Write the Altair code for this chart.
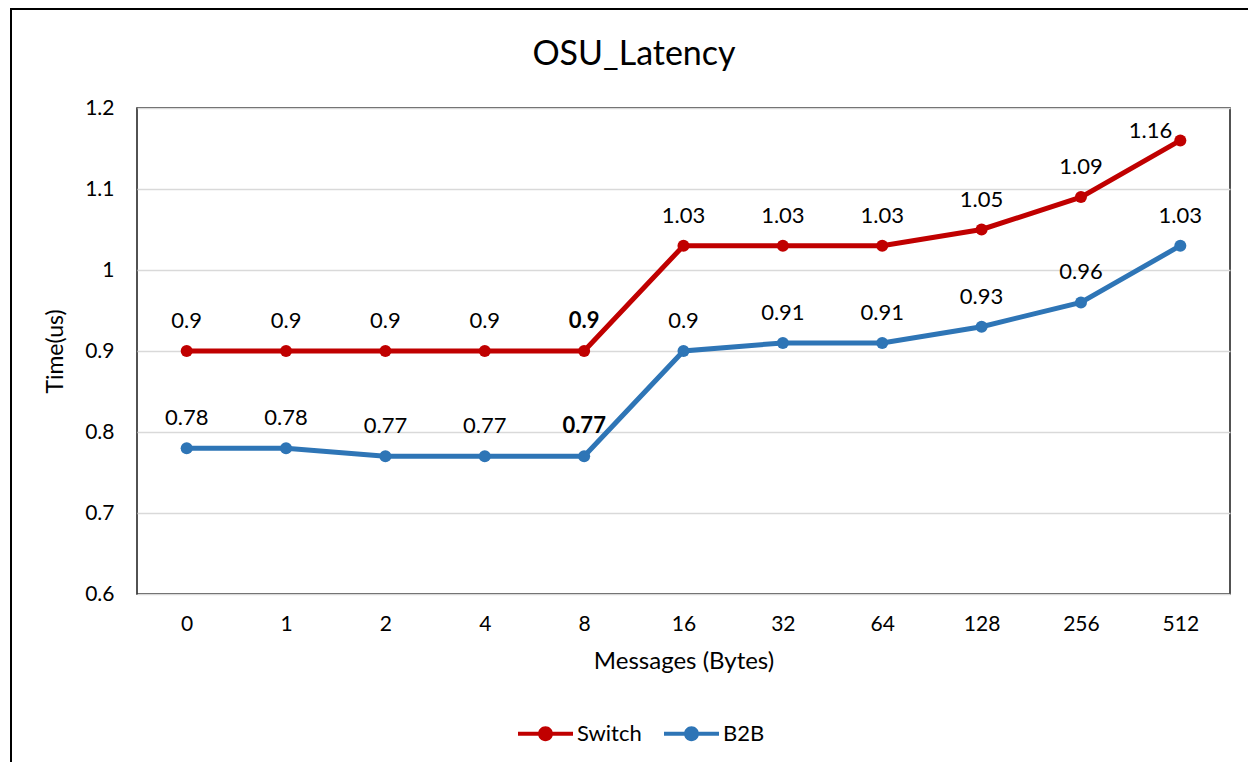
import altair as alt
import pandas as pd

bytes_labels = ["0", "1", "2", "4", "8", "16", "32", "64", "128", "256", "512"]
switch_vals = [0.9, 0.9, 0.9, 0.9, 0.9, 1.03, 1.03, 1.03, 1.05, 1.09, 1.16]
b2b_vals = [0.78, 0.78, 0.77, 0.77, 0.77, 0.9, 0.91, 0.91, 0.93, 0.96, 1.03]
series_names = ["Switch", "B2B"]
series_colors = ["#c00000", "#2e75b6"]
chart_title = "OSU_Latency"

rows = []
for b, v in zip(bytes_labels, switch_vals):
    rows.append({"Bytes": b, "Series": "Switch", "Time": v})
for b, v in zip(bytes_labels, b2b_vals):
    rows.append({"Bytes": b, "Series": "B2B", "Time": v})
df = pd.DataFrame(rows)

FONT = "Lato"
W, H = 1093, 486

x_enc = alt.X("Bytes:N", sort=bytes_labels,
              scale=alt.Scale(type="point", padding=0.5),
              axis=alt.Axis(title="Messages (Bytes)", labelAngle=0, ticks=False,
                            domain=False, labelPadding=19, labelFontSize=21,
                            titleFontSize=24, titlePadding=15, grid=False,
                            labelColor="#000", titleColor="#000",
                            labelFont=FONT, titleFont=FONT, titleFontWeight="normal"))
y_enc = alt.Y("Time:Q", scale=alt.Scale(domain=[0.6, 1.2], nice=False, zero=False),
              axis=alt.Axis(title="Time(us)", values=[0.6, 0.7, 0.8, 0.9, 1.0, 1.1, 1.2],
                            format="~g", ticks=False, domain=False, labelPadding=23,
                            labelFontSize=21, titleFontSize=23, titlePadding=17,
                            gridColor="#d9d9d9", gridWidth=1.5,
                            labelColor="#000", titleColor="#000",
                            labelFont=FONT, titleFont=FONT, titleFontWeight="normal"))

legend_path = ("M-1,-0.075 L1,-0.075 L1,0.075 L-1,0.075 Z "
               "M0.27,0 A0.27,0.27 0 1 1 -0.27,0 A0.27,0.27 0 1 1 0.27,0 Z")
legend = alt.Legend(title=None, orient="none", direction="horizontal",
                    legendX=381, legendY=598,
                    symbolType=legend_path, symbolSize=3025,
                    symbolStrokeWidth=0, labelFontSize=22,
                    labelFont=FONT, labelColor="#000",
                    columnPadding=22, labelOffset=4)
color_enc = alt.Color("Series:N", scale=alt.Scale(domain=series_names, range=series_colors),
                      legend=legend)

base = alt.Chart(df)
one = pd.DataFrame({"t": [chart_title]})

frame = alt.Chart(one).mark_rect(
    fill=None, stroke="#000", strokeWidth=2
).encode(x=alt.value(-126), x2=alt.value(1400), y=alt.value(-99), y2=alt.value(900))

title_mark = alt.Chart(one).mark_text(
    fontSize=34, font=FONT, color="#000", baseline="alphabetic", align="center"
).encode(x=alt.value(497), y=alt.value(-43), text="t:N")

lines = base.mark_line(strokeWidth=5).encode(
    x=x_enc, y=y_enc, color=color_enc, detail="Series:N")

points = base.mark_circle(size=145, opacity=1).encode(
    x=x_enc, y=y_enc, color=color_enc)

labels_normal = base.transform_filter(
    "datum.Bytes != '8' && !(datum.Bytes == '512' && datum.Series == 'Switch')"
).mark_text(fontSize=22, font=FONT, baseline="alphabetic", dy=-23, color="#000").encode(
    x=x_enc, y=y_enc, text=alt.Text("Time:Q", format="~g"))

labels_bold = base.transform_filter("datum.Bytes == '8'").mark_text(
    fontSize=22, font=FONT, baseline="alphabetic", dy=-23, color="#000", fontWeight="bold"
).encode(x=x_enc, y=y_enc, text=alt.Text("Time:Q", format="~g"))

labels_last = base.transform_filter(
    "datum.Bytes == '512' && datum.Series == 'Switch'"
).mark_text(fontSize=22, font=FONT, baseline="alphabetic", align="right", dy=-2, dx=-8,
            color="#000").encode(
    x=x_enc, y=y_enc, text=alt.Text("Time:Q", format="~g"))

chart = alt.layer(frame, title_mark, lines, points, labels_normal, labels_bold,
                  labels_last).properties(
    width=W, height=H,
    autosize=alt.AutoSizeParams(type="none"),
    padding={"left": 129, "top": 100, "right": 18, "bottom": 168},
).configure(background="white").configure_view(stroke="#1a1a1a", strokeWidth=1.5)

chart.save("out.html", embed_options={"renderer": "svg", "actions": False})
